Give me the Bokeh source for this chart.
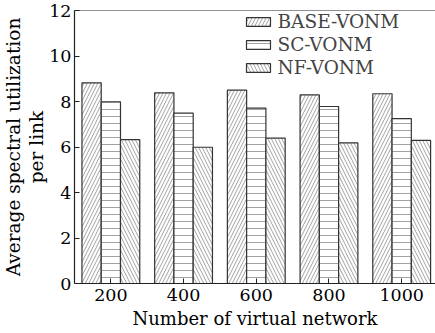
from bokeh.plotting import figure
from bokeh.models import FixedTicker, Range1d, Span, Legend, LegendItem, Title
from bokeh.embed import file_html
from bokeh.resources import INLINE

# Number of virtual networks and the average spectral utilization per link
networks = [200, 400, 600, 800, 1000]
base_vonm = [8.82, 8.38, 8.50, 8.29, 8.34]
sc_vonm = [7.99, 7.49, 7.71, 7.78, 7.25]
nf_vonm = [6.32, 5.99, 6.39, 6.18, 6.29]
series_names = ["BASE-VONM", "SC-VONM", "NF-VONM"]
y_ticks = [0, 2, 4, 6, 8, 10, 12]
y_title_lines = ["per link", "Average spectral utilization"]

FONT = "DejaVu Serif"
bar_w = 53
offsets = [-bar_w, 0, bar_w]
hatches = ["/", "-", "\\"]

p = figure(
    width=435, height=333,
    x_range=Range1d(100, 1093), y_range=Range1d(0, 12),
    output_backend="svg", toolbar_location=None,
    min_border_left=0, min_border_right=0,
    min_border_top=10, min_border_bottom=50,
)
p.outline_line_color = None
p.grid.visible = False
p.background_fill_color = "white"

renderers = []
for vals, off, hatch in zip([base_vonm, sc_vonm, nf_vonm], offsets, hatches):
    r = p.vbar(
        x=[n + off for n in networks], top=vals, width=bar_w, bottom=0,
        fill_color="white", line_color="#333333", line_width=1.2,
        hatch_pattern=hatch, hatch_color="#8a8a8a", hatch_weight=0.8,
        hatch_scale=7,
    )
    renderers.append(r)

# top border of the plotting area
p.add_layout(Span(location=12, dimension="width", line_color="#222222", line_width=1.2))

p.xaxis.ticker = FixedTicker(ticks=networks)
p.yaxis.ticker = FixedTicker(ticks=y_ticks)
for ax in (p.xaxis, p.yaxis):
    ax.axis_line_color = "#222222"
    ax.axis_line_width = 1.2
    ax.major_tick_line_color = "#222222"
    ax.major_tick_in = 5
    ax.major_tick_out = 0
    ax.minor_tick_line_color = None
    ax.major_label_text_font = FONT
    ax.major_label_text_font_size = "17.5px"
    ax.major_label_text_color = "black"
    ax.axis_label_text_font = FONT
    ax.axis_label_text_font_size = "18px"
    ax.axis_label_text_font_style = "normal"
    ax.axis_label_text_color = "black"

p.xaxis.axis_label = "Number of virtual network"
p.xaxis.major_label_standoff = 5
p.xaxis.axis_label_standoff = 4
p.yaxis.major_label_standoff = 3

# two-line vertical title to the left of the y axis
for line in y_title_lines:
    p.add_layout(Title(
        text=line, align="center", standoff=0, offset=0,
        text_font=FONT, text_font_size="18.5px", text_font_style="normal",
        text_color="black",
    ), "left")

legend = Legend(
    items=[LegendItem(label=n, renderers=[r]) for n, r in zip(series_names, renderers)],
    location=(168.5, 204),
    padding=0, margin=0, spacing=0,
    glyph_width=30, glyph_height=11, label_height=23,
    label_standoff=5,
    label_text_font=FONT, label_text_font_size="18.5px",
    border_line_color=None, background_fill_alpha=0,
)
p.add_layout(legend)

open("out.html", "w").write(file_html(p, INLINE))
